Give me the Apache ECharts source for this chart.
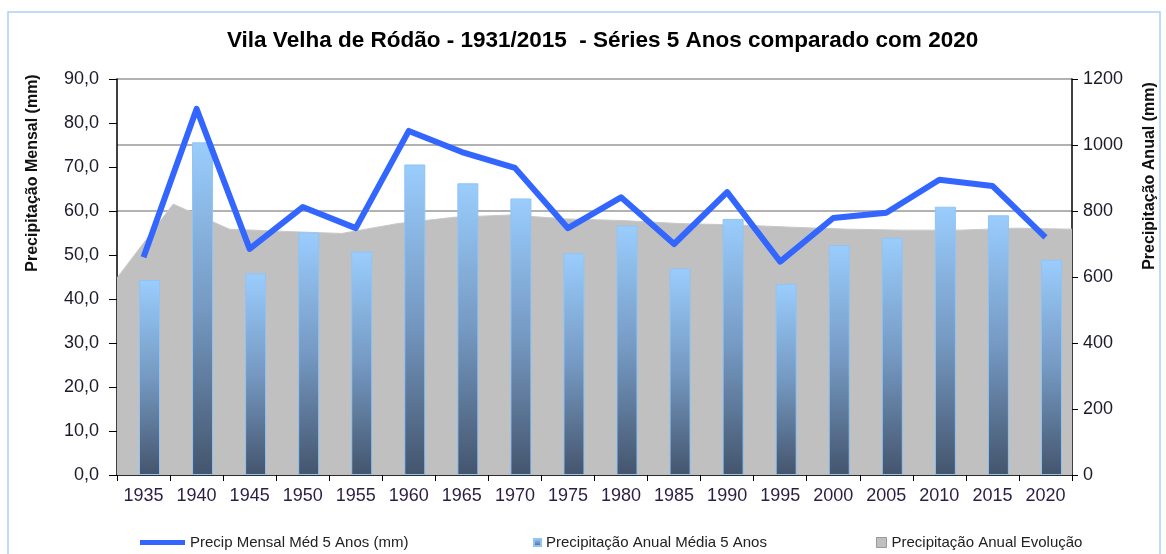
<!DOCTYPE html>
<html lang="pt">
<head>
    <meta http-equiv="content-type" content="text/html;charset=utf-8">
    <title>Vila Velha de Ródão - Séries 5 Anos</title>
    <script src="https://cdn.jsdelivr.net/npm/echarts@6/dist/echarts.min.js"></script>
    <style>
        html, body { margin: 0; padding: 0; background: #fff; }
        #main { width: 1166px; height: 554px; }
    </style>
</head>
<body>
    <div id="main"></div>
    <script>
        // categorias (médias de 5 anos)
        var anos = ['1935', '1940', '1945', '1950', '1955', '1960', '1965', '1970', '1975',
                    '1980', '1985', '1990', '1995', '2000', '2005', '2010', '2015', '2020'];
        // linha - precipitação mensal média 5 anos (mm), eixo esquerdo
        var mensal5 = [49.5, 83.2, 51.4, 60.9, 56.1, 78.2, 73.4, 69.8, 56.1, 63.1,
                       52.5, 64.3, 48.5, 58.4, 59.6, 67.1, 65.7, 54.0];
        // barras - precipitação anual média 5 anos (mm), eixo direito
        var anual5 = [591, 1008, 611, 735, 677, 941, 884, 838, 672, 756,
                      626, 776, 579, 697, 719, 813, 787, 652];
        // área - evolução da precipitação anual (mm), eixo direito
        var evolAnos = ['1931', '1935', '1940', '1945', '1950', '1955', '1960', '1965', '1970',
                        '1975', '1980', '1985', '1990', '1995', '2000', '2005', '2010', '2015'];
        var evolucao = [597, 821, 745, 738, 732, 762, 781, 788, 776,
                        771, 762, 758, 751, 745, 742, 742, 748, 745];
        var ticksEsq = [0, 90, 10];
        var ticksDir = [0, 1200, 200];

        var nomeLinha = 'Precip Mensal Méd 5 Anos (mm)';
        var nomeBarras = 'Precipitação Anual Média 5 Anos';
        var nomeArea = 'Precipitação Anual Evolução';

        var fonte = "'Liberation Sans', Arial, sans-serif";
        var myChart = echarts.init(document.getElementById('main'));

        var gradBarras = new echarts.graphic.LinearGradient(0, 0, 0, 1, [
            { offset: 0, color: '#9acdfd' },
            { offset: 0.5, color: '#7599c2' },
            { offset: 1, color: '#44556d' }
        ]);

        var option = {
            backgroundColor: '#fff',
            animation: false,
            textStyle: { fontFamily: fonte },
            title: {
                text: 'Vila Velha de Ródão - 1931/2015  - Séries 5 Anos comparado com 2020',
                left: 222,
                top: 24,
                textStyle: {
                    fontFamily: fonte,
                    fontSize: 22.5, fontWeight: 'bold', color: '#000'
                }
            },
            legend: [
                {
                    left: 135, top: 530, itemWidth: 45, itemHeight: 5,
                    data: [{ name: nomeLinha, icon: 'rect' }],
                    textStyle: { fontSize: 15, color: '#222' }
                },
                {
                    left: 528, top: 530, itemWidth: 7, itemHeight: 7,
                    data: [{ name: nomeBarras, icon: 'rect' }],
                    textStyle: { fontSize: 15, color: '#222' }
                },
                {
                    left: 871, top: 530, itemWidth: 10, itemHeight: 10,
                    data: [{ name: nomeArea, icon: 'rect', itemStyle: { borderColor: '#999', borderWidth: 1 } }],
                    textStyle: { fontSize: 15, color: '#222' }
                }
            ],
            grid: { left: 117, right: 94, top: 79, bottom: 79, outerBoundsMode: 'none' },
            xAxis: [
                {
                    type: 'category',
                    data: anos,
                    axisLine: { lineStyle: { color: '#000', width: 1.5 } },
                    axisTick: { show: true, length: 6, lineStyle: { color: '#000' } },
                    axisLabel: { fontSize: 18, color: '#2b1d45', margin: 12 }
                },
                {
                    type: 'category',
                    data: evolAnos,
                    boundaryGap: false,
                    show: false
                }
            ],
            yAxis: [
                {
                    type: 'value',
                    min: ticksEsq[0], max: ticksEsq[1], interval: ticksEsq[2],
                    axisLine: { show: true, lineStyle: { color: '#000', width: 1.5 } },
                    axisTick: { show: true, length: 8, lineStyle: { color: '#000' } },
                    axisLabel: {
                        fontSize: 18, color: '#1a1a2a', margin: 18,
                        formatter: function (v) { return v.toFixed(1).replace('.', ','); }
                    },
                    splitLine: { show: false }
                },
                {
                    type: 'value',
                    min: ticksDir[0], max: ticksDir[1], interval: ticksDir[2],
                    axisLine: { show: true, lineStyle: { color: '#000', width: 1.5 } },
                    axisTick: { show: true, length: 6, lineStyle: { color: '#000' } },
                    axisLabel: {
                        fontSize: 18, color: '#1a1a2a', margin: 11,
                        formatter: function (v) { return String(v); }
                    },
                    splitLine: { show: true, lineStyle: { color: '#999', width: 1.5 } }
                }
            ],
            graphic: [
                {
                    type: 'rect', silent: true, z: -10,
                    shape: { x: 8, y: 12, width: 1152, height: 600 },
                    style: { fill: 'none', stroke: '#a9d0f5', lineWidth: 1.5 }
                },
                {
                    type: 'text', x: 33, y: 173, rotation: Math.PI / 2,
                    style: {
                        text: 'Precipitação Mensal (mm)', fill: '#111',
                        font: 'bold 16px ' + fonte, align: 'center', verticalAlign: 'middle'
                    }
                },
                {
                    type: 'text', x: 1150, y: 176, rotation: Math.PI / 2,
                    style: {
                        text: 'Precipitação Anual (mm)', fill: '#111',
                        font: 'bold 16px ' + fonte, align: 'center', verticalAlign: 'middle'
                    }
                }
            ],
            series: [
                {
                    name: nomeArea,
                    type: 'line',
                    xAxisIndex: 1,
                    yAxisIndex: 1,
                    symbol: 'none',
                    z: 1,
                    lineStyle: { color: '#c9c9c9', width: 1 },
                    itemStyle: { color: '#c0c0c0' },
                    areaStyle: { color: '#c0c0c0', opacity: 1 },
                    data: evolucao
                },
                {
                    // serie vazia so para deslocar as barras como no original
                    name: '_',
                    type: 'bar',
                    yAxisIndex: 1,
                    barWidth: 21,
                    data: anos.map(function () { return null; })
                },
                {
                    name: nomeBarras,
                    type: 'bar',
                    yAxisIndex: 1,
                    barWidth: 21,
                    barGap: '-43%',
                    z: 2,
                    itemStyle: { color: gradBarras, borderColor: '#8fc4f5', borderWidth: 1 },
                    data: anual5
                },
                {
                    name: nomeLinha,
                    type: 'line',
                    yAxisIndex: 0,
                    symbol: 'none',
                    z: 5,
                    itemStyle: { color: '#3366ff' },
                    lineStyle: { color: '#3366ff', width: 6, join: 'round' },
                    data: mensal5
                }
            ]
        };

        myChart.setOption(option);
        window.onresize = function () {
            myChart.resize();
        };
    </script>
</body>
</html>
